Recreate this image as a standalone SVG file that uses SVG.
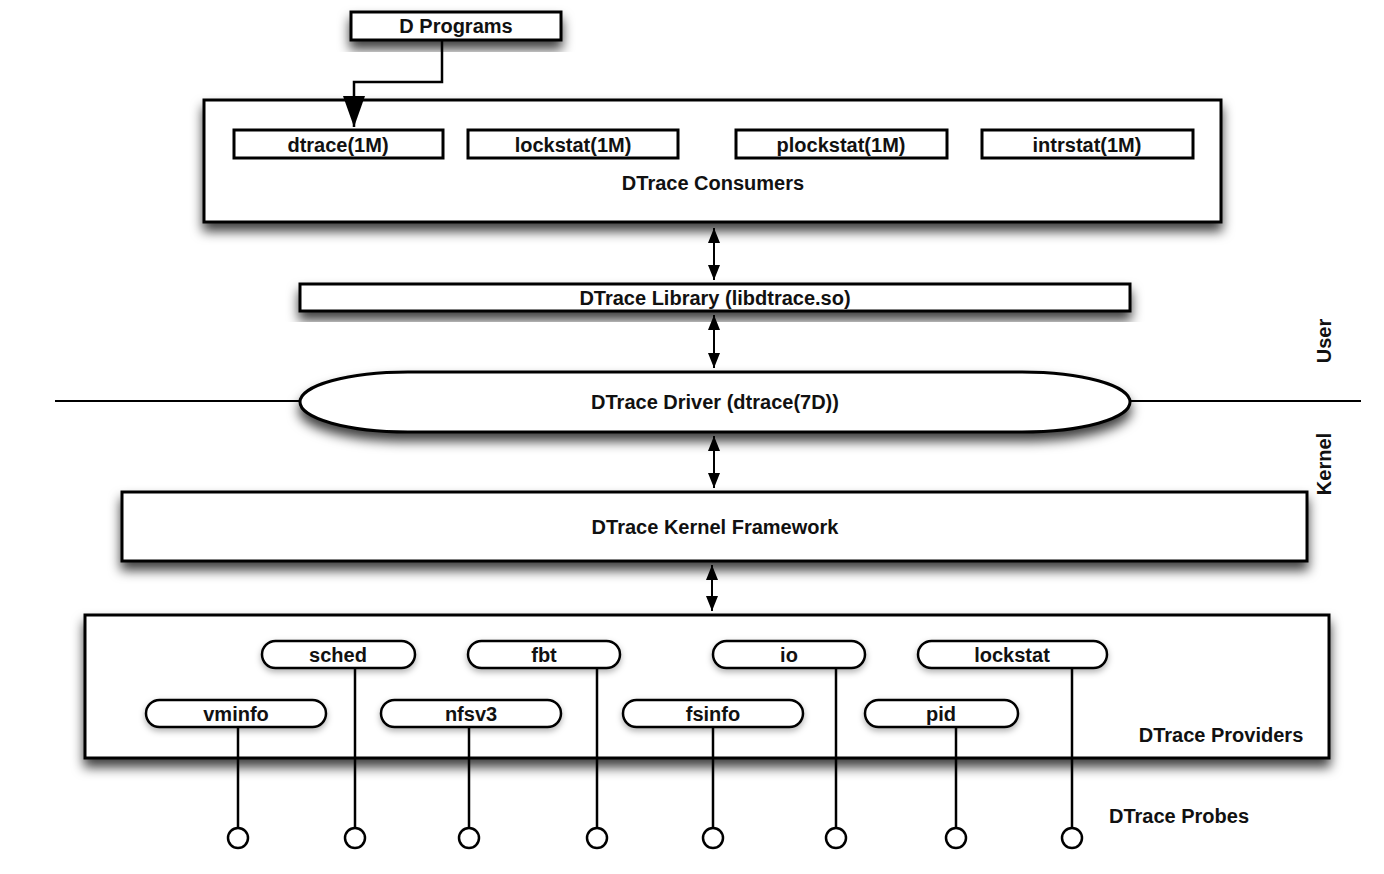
<svg xmlns="http://www.w3.org/2000/svg" width="1384" height="874" viewBox="0 0 1384 874">
<defs>
<style>
.box{fill:#fff;stroke:#000;stroke-width:3;filter:url(#sh)}
.pill{fill:#fff;stroke:#000;stroke-width:2.5;filter:url(#sh2)}
.t{font-family:"Liberation Sans",Arial,sans-serif;font-weight:bold;font-size:20px;fill:#111;text-anchor:middle}
.ln{fill:none;stroke:#000;stroke-width:2.5}
.thin{fill:none;stroke:#000;stroke-width:2}
.probe{fill:#fff;stroke:#000;stroke-width:2.5}
</style>
<filter id="sh" x="-10%" y="-30%" width="120%" height="170%">
<feDropShadow dx="0" dy="8" stdDeviation="6" flood-color="#000" flood-opacity="0.75"/>
</filter>
<filter id="sh2" x="-10%" y="-30%" width="120%" height="170%">
<feDropShadow dx="0" dy="3" stdDeviation="3" flood-color="#000" flood-opacity="0.3"/>
</filter>
<marker id="big" markerUnits="userSpaceOnUse" markerWidth="34" markerHeight="24" refX="31" refY="11" orient="auto">
<path d="M0,0 L31,11 L0,22 Z" fill="#000"/>
</marker>
<marker id="ah" markerUnits="userSpaceOnUse" markerWidth="17" markerHeight="13" refX="15" refY="6" orient="auto-start-reverse">
<path d="M0,0 L15,6 L0,12 Z" fill="#000"/>
</marker>
</defs>
<rect width="1384" height="874" fill="#fff"/>

<g id="dprograms">
<rect class="box" x="351" y="12" width="210" height="28"/>
<text class="t" x="456" y="33">D Programs</text>
</g>

<g id="consumers">
<rect class="box" x="204" y="100" width="1017" height="122"/>
<text class="t" x="713" y="190">DTrace Consumers</text>
</g>
<g id="dtrace1m">
<rect class="box" style="filter:none" x="234" y="130" width="209" height="28"/>
<text class="t" x="338" y="152">dtrace(1M)</text>
</g>
<g id="lockstat1m">
<rect class="box" style="filter:none" x="468" y="130" width="210" height="28"/>
<text class="t" x="573" y="152">lockstat(1M)</text>
</g>
<g id="plockstat1m">
<rect class="box" style="filter:none" x="736" y="130" width="211" height="28"/>
<text class="t" x="841" y="152">plockstat(1M)</text>
</g>
<g id="intrstat1m">
<rect class="box" style="filter:none" x="982" y="130" width="211" height="28"/>
<text class="t" x="1087" y="152">intrstat(1M)</text>
</g>

<g id="library">
<rect class="box" x="300" y="284" width="830" height="27"/>
<text class="t" x="715" y="305">DTrace Library (libdtrace.so)</text>
</g>

<g id="boundary">
<line class="thin" x1="55" y1="401" x2="300" y2="401"/>
<line class="thin" x1="1130" y1="401" x2="1361" y2="401"/>
<text class="t" transform="translate(1331,341) rotate(-90)">User</text>
<text class="t" transform="translate(1331,464) rotate(-90)">Kernel</text>
</g>

<g id="driver">
<path class="box" d="M408,372 H1022 A108,30 0 0 1 1022,432 H408 A108,30 0 0 1 408,372 Z"/>
<text class="t" x="715" y="409">DTrace Driver (dtrace(7D))</text>
</g>

<g id="kernel">
<rect class="box" x="122" y="492" width="1185" height="69"/>
<text class="t" x="715" y="534">DTrace Kernel Framework</text>
</g>

<g id="providers">
<rect class="box" x="85" y="615" width="1244" height="143"/>
<text class="t" x="1221" y="742">DTrace Providers</text>
</g>

<g id="connectors">
<polyline class="ln" points="442,40 442,82 354,82 354,127" marker-end="url(#big)"/>
<line class="thin" x1="714" y1="228" x2="714" y2="280" marker-start="url(#ah)" marker-end="url(#ah)"/>
<line class="thin" x1="714" y1="315" x2="714" y2="368" marker-start="url(#ah)" marker-end="url(#ah)"/>
<line class="thin" x1="714" y1="436" x2="714" y2="488" marker-start="url(#ah)" marker-end="url(#ah)"/>
<line class="thin" x1="712" y1="565" x2="712" y2="611" marker-start="url(#ah)" marker-end="url(#ah)"/>
<g id="probe-lines">
<line class="ln" x1="355" y1="668" x2="355" y2="828"/>
<line class="ln" x1="597" y1="668" x2="597" y2="828"/>
<line class="ln" x1="836" y1="668" x2="836" y2="828"/>
<line class="ln" x1="1072" y1="668" x2="1072" y2="828"/>
<line class="ln" x1="238" y1="727" x2="238" y2="828"/>
<line class="ln" x1="469" y1="727" x2="469" y2="828"/>
<line class="ln" x1="713" y1="727" x2="713" y2="828"/>
<line class="ln" x1="956" y1="727" x2="956" y2="828"/>
</g>
</g>

<g id="sched">
<rect class="pill" x="262" y="641" width="153" height="27" rx="13.5"/>
<text class="t" x="338" y="662">sched</text>
</g>
<g id="fbt">
<rect class="pill" x="468" y="641" width="152" height="27" rx="13.5"/>
<text class="t" x="544" y="662">fbt</text>
</g>
<g id="io">
<rect class="pill" x="713" y="641" width="152" height="27" rx="13.5"/>
<text class="t" x="789" y="662">io</text>
</g>
<g id="lockstat">
<rect class="pill" x="918" y="641" width="189" height="27" rx="13.5"/>
<text class="t" x="1012" y="662">lockstat</text>
</g>
<g id="vminfo">
<rect class="pill" x="146" y="700" width="180" height="27" rx="13.5"/>
<text class="t" x="236" y="721">vminfo</text>
</g>
<g id="nfsv3">
<rect class="pill" x="381" y="700" width="180" height="27" rx="13.5"/>
<text class="t" x="471" y="721">nfsv3</text>
</g>
<g id="fsinfo">
<rect class="pill" x="623" y="700" width="180" height="27" rx="13.5"/>
<text class="t" x="713" y="721">fsinfo</text>
</g>
<g id="pid">
<rect class="pill" x="865" y="700" width="153" height="27" rx="13.5"/>
<text class="t" x="941" y="721">pid</text>
</g>

<g id="probes">
<circle class="probe" cx="238" cy="838" r="10"/>
<circle class="probe" cx="355" cy="838" r="10"/>
<circle class="probe" cx="469" cy="838" r="10"/>
<circle class="probe" cx="597" cy="838" r="10"/>
<circle class="probe" cx="713" cy="838" r="10"/>
<circle class="probe" cx="836" cy="838" r="10"/>
<circle class="probe" cx="956" cy="838" r="10"/>
<circle class="probe" cx="1072" cy="838" r="10"/>
<text class="t" x="1179" y="823">DTrace Probes</text>
</g>
</svg>
